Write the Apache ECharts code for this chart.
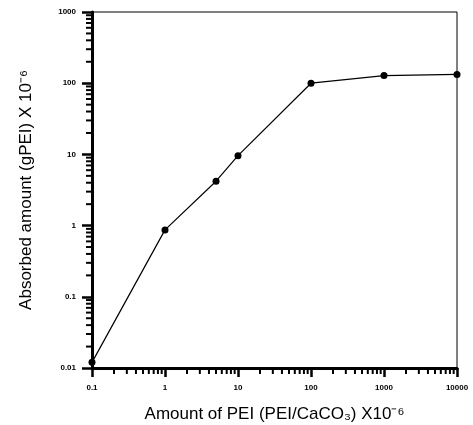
<!DOCTYPE html>
<html style="height: 100%">
<head>
    <script src="https://cdn.jsdelivr.net/npm/echarts@6/dist/echarts.min.js"></script>
</head>
<body style="height: 100%; margin: 0; background: #fff">
    <div id="main" style="width: 473px; height: 425px"></div>
    <script type="text/javascript">
    var chartDom = document.getElementById('main');
    var myChart = echarts.init(chartDom);

    // PEI amount (x) vs absorbed amount (y), both x10^-6
    var peiAmount = [0.1, 1, 5, 10, 100, 1000, 10000];
    var absorbed = [0.012, 0.87, 4.2, 9.6, 100, 128, 133];
    var xTickLabels = ['0.1', '1', '10', '100', '1000', '10000'];
    var yTickLabels = ['0.01', '0.1', '1', '10', '100', '1000'];

    // log minor ticks at 2..9 of every decade
    function minorTicks(from, decades) {
        var out = [];
        for (var d = 0; d < decades; d++) {
            var base = from * Math.pow(10, d);
            for (var k = 2; k <= 9; k++) out.push(+(base * k).toPrecision(3));
        }
        return out;
    }
    var xMinor = minorTicks(0.1, 5);
    var yMinor = minorTicks(0.01, 5);

    var font = 'Liberation Sans, Arial, sans-serif';

    var option = {
        backgroundColor: '#fff',
        animation: false,
        grid: {
            left: 92, right: 16, top: 12, bottom: 57,
            outerBoundsMode: 'none',
            containLabel: false,
            show: true, borderColor: '#000', borderWidth: 1
        },
        xAxis: {
            type: 'log',
            logBase: 10,
            min: 0.1,
            max: 10000,
            name: 'Amount of PEI (PEI/CaCO\u2083) X10\u207B\u2076',
            nameLocation: 'middle',
            nameGap: 25,
            nameTextStyle: { color: '#000', fontSize: 17, fontFamily: font },
            axisLine: { onZero: false, lineStyle: { color: '#000', width: 3 } },
            axisTick: { length: 9, lineStyle: { color: '#000', width: 2.5 } },
            axisLabel: {
                color: '#000', fontSize: 8, fontWeight: 'bold', fontFamily: font, margin: 13,
                formatter: function (v) {
                    var i = Math.round(Math.log10(v) + 1);
                    return xTickLabels[i] || '';
                }
            },
            splitLine: { show: false }
        },
        yAxis: {
            type: 'log',
            logBase: 10,
            min: 0.01,
            max: 1000,
            name: 'Absorbed amount (gPEI) X 10\u207B\u2076',
            nameLocation: 'middle',
            nameGap: 51,
            nameTextStyle: { color: '#000', fontSize: 17, fontFamily: font },
            axisLine: { onZero: false, lineStyle: { color: '#000', width: 3 } },
            axisTick: { length: 10, lineStyle: { color: '#000', width: 2.5 } },
            axisLabel: {
                color: '#000', fontSize: 8, fontWeight: 'bold', fontFamily: font, margin: 16,
                formatter: function (v) {
                    var i = Math.round(Math.log10(v) + 2);
                    return yTickLabels[i] || '';
                }
            },
            splitLine: { show: false }
        },
        series: [
            {
                type: 'line',
                data: peiAmount.map(function (x, i) { return [x, absorbed[i]]; }),
                symbol: 'circle',
                symbolSize: 7,
                itemStyle: { color: '#000' },
                lineStyle: { color: '#000', width: 1.2 },
                clip: false,
                z: 5
            },
            {
                type: 'custom',
                silent: true,
                clip: false,
                data: xMinor.map(function (v) { return [v, 0.01]; }),
                renderItem: function (params, api) {
                    var p = api.coord([api.value(0), api.value(1)]);
                    return {
                        type: 'line',
                        shape: { x1: p[0], y1: p[1], x2: p[0], y2: p[1] + 6 },
                        style: { stroke: '#000', lineWidth: 2 }
                    };
                }
            },
            {
                type: 'custom',
                silent: true,
                clip: false,
                data: yMinor.map(function (v) { return [0.1, v]; }),
                renderItem: function (params, api) {
                    var p = api.coord([api.value(0), api.value(1)]);
                    return {
                        type: 'line',
                        shape: { x1: p[0] - 6, y1: p[1], x2: p[0], y2: p[1] },
                        style: { stroke: '#000', lineWidth: 2 }
                    };
                }
            }
        ]
    };

    myChart.setOption(option);
    </script>
</body>
</html>
